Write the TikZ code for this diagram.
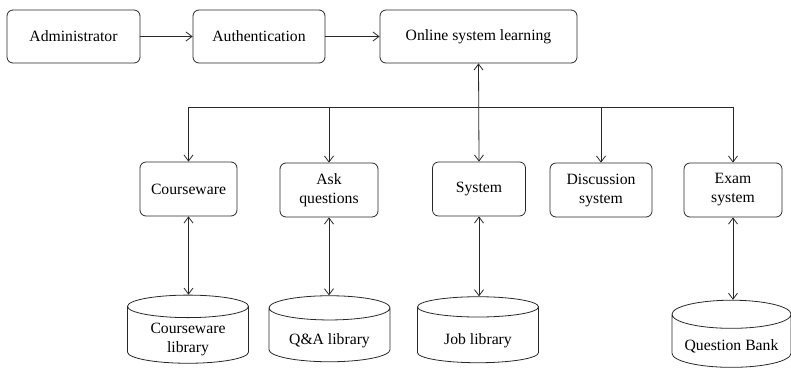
\documentclass[tikz,border=0pt]{standalone}
\usepackage{fontspec}
\setmainfont{Liberation Serif}
\usepackage{tikz}
\usetikzlibrary{shapes.geometric, arrows.meta, positioning, calc}
\definecolor{linegray}{RGB}{40, 40, 40}

\tikzset{
    modbox/.style={draw=linegray, rounded corners=6pt, align=center, inner sep=2pt,
        font=\fontsize{15.7}{19}\selectfont},
    dbase/.style={draw=linegray, cylinder, shape border rotate=90, aspect=0.3,
        minimum width=121pt, minimum height=66pt, align=center, inner sep=0pt,
        text height=22pt, font=\fontsize{15.7}{19}\selectfont},
    link/.style={draw=linegray, -{Straight Barb[length=6pt,width=9pt]}},
    dlink/.style={draw=linegray, {Straight Barb[length=6pt,width=9pt]}-{Straight Barb[length=6pt,width=9pt]}}
}

\begin{document}
\begin{tikzpicture}[x=1pt, y=-1pt, line width=0.8pt]
\useasboundingbox (0,0) rectangle (791,370);

% Top row: login flow
\node[modbox, minimum width=133pt, minimum height=53pt] (admin) at (73.5,36.5) {Administrator};
\node[modbox, minimum width=132pt, minimum height=53pt] (auth) at (259,36.5) {Authentication};
\node[modbox, minimum width=197pt, minimum height=53pt] (online) at (478.5,36.5) {Online system learning};

\draw[link] (admin) -- (auth);
\draw[link] (auth) -- (online);

% Middle row: modules
\node[modbox, minimum width=97pt, minimum height=54pt] (course) at (188.5,189) {Courseware};
\node[modbox, minimum width=98pt, minimum height=54pt] (ask) at (329,190) {Ask\\questions};
\node[modbox, minimum width=93pt, minimum height=54pt] (sys) at (479,189) {System};
\node[modbox, minimum width=102pt, minimum height=54pt] (disc) at (601,190) {Discussion\\system};
\node[modbox, minimum width=98pt, minimum height=54pt] (exam) at (733,190) {Exam\\system};

% Bottom row: libraries
\node[dbase, text height=34pt, text depth=-4pt] (clib) at (188,335) {Courseware\\library};
\node[dbase] (qalib) at (329.5,335) {Q\&A library};
\node[dbase] (joblib) at (478,335) {Job library};
\node[dbase, minimum width=119pt, minimum height=58pt] (qbank) at (731.5,341) {Question Bank};

% Bus from the online system to the modules
\coordinate (bus) at ($(online.south)+(0,44)$);
\draw[link] (bus) -| (course.north);
\draw[link] (bus) -| (ask.north);
\draw[link] (bus) -| (disc.north);
\draw[link] (bus) -| (exam.north);
\draw[dlink] (online.south) -- (sys.north);

% Modules to libraries
\draw[dlink] (course.south) -- (course.south |- clib.north);
\draw[dlink] (ask.south) -- (ask.south |- qalib.north);
\draw[dlink] (sys.south) -- (sys.south |- joblib.north);
\draw[dlink] (exam.south) -- (exam.south |- qbank.north);
\end{tikzpicture}
\end{document}
